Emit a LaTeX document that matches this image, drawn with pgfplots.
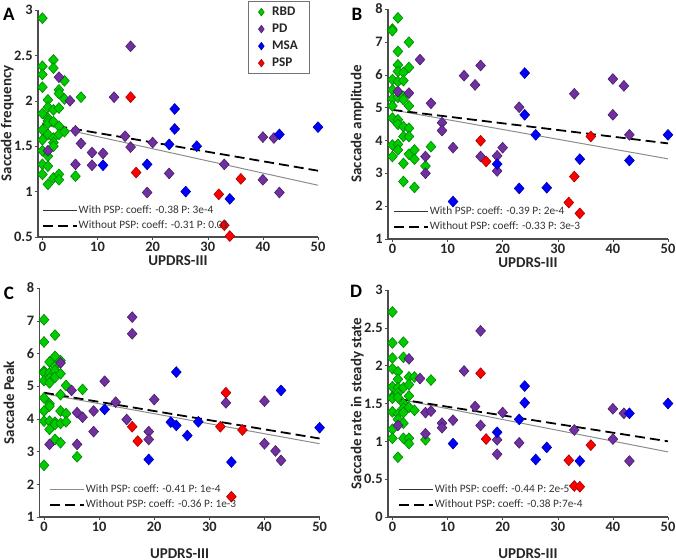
\documentclass[border=0pt]{standalone}
\usepackage{fontspec}
\setmainfont{Carlito}
\usepackage{pgfplots}
\pgfplotsset{compat=1.18}

\definecolor{rbd}{RGB}{0,204,0}
\definecolor{pd}{RGB}{112,48,160}
\definecolor{msa}{RGB}{0,0,255}
\definecolor{psp}{RGB}{255,0,0}

\pgfplotsset{
  panel/.style={
    scale only axis, width=140pt,
    xmin=-0.8, xmax=50,
    axis lines=left, axis line style={-, black!70, line width=0.6pt},
    xtick={0,10,...,50},
    tick align=outside, major tick length=1.5pt, tick style={black!70},
    /pgf/number format/assume math mode=true,
    ticklabel style={font=\fontsize{7.2}{8}\selectfont\bfseries, text=black!85, inner sep=1pt},
    xticklabel style={inner sep=0.6pt},
    label style={font=\fontsize{7.5}{8}\selectfont\bfseries, text=black!85, inner sep=0pt},
    xlabel={UPDRS-III},
    ylabel style={at={(axis description cs:-0.11,0.5)}, anchor=center},
    clip=false,
    legend style={draw=none, fill=none, font=\fontsize{5.65}{6.5}\selectfont,
      text=black!80, row sep=1.9pt, inner sep=0pt, anchor=south west,
      nodes={inner sep=0.3pt, text height=4.1pt, text depth=1.1pt}},
    legend cell align=left,
    regleg,
  },
  regleg/.style={legend image code/.code={\draw[##1] (0pt,0pt) -- (17pt,0pt);}},
  markleg/.style={legend image code/.code={\draw[##1] plot coordinates {(3pt,0pt)};}},
  grp/.style={only marks, mark=diamond*, mark size=2.7pt,
    mark options={xscale=1.2, fill=#1, draw=#1!65!black, line width=0.3pt}},
  grpl/.style={only marks, mark=diamond*, mark size=1.9pt,
    mark options={xscale=1.0, fill=#1, draw=#1!65!black, line width=0.3pt}},
  with/.style={black!45, line width=0.5pt},
  without/.style={black, line width=0.9pt, dash pattern=on 5pt off 2.5pt},
}

\begin{document}
\begin{tikzpicture}
\useasboundingbox (0,0) rectangle (338pt,279.5pt);

% ---------- A
\begin{axis}[panel, at={(19pt,161pt)}, height=113.5pt,
  ymin=0.5, ymax=3, ytick={0.5,1,...,3}, ylabel={Saccade frequency},
  xlabel style={at={(axis description cs:0.5,-0.103)}, anchor=center},
  legend style={at={(0.014,0.022)}}]
\addplot[grp=rbd, forget plot] coordinates {
(0,2.91)(0,2.38)(0,2.29)(0,2.15)(0,1.86)(0,1.68)(0,1.57)(0,1.45)(0,1.30)(0,1.19)
(1,2.01)(1,1.93)(1,1.81)(1,1.78)(1,1.75)(1,1.63)(1,1.39)(1,1.28)(1,1.08)
(2,2.45)(2,2.36)(2,1.90)(2,1.77)(2,1.59)(2,1.54)(2,1.50)(2,1.15)
(3,2.12)(3,2.08)(3,1.92)(3,1.72)(3,1.63)(3,1.19)(3,1.13)
(4,2.22)(4,2.02)(4,1.66)(6,1.17)(7,2.04)};
\addplot[grp=pd, forget plot] coordinates {
(1,1.45)(3,2.26)(5,2.00)(6,1.67)(6,1.30)(7,1.53)(9,1.43)(9,1.29)(11,1.42)(13,2.04)
(15,1.61)(16,2.60)(16,1.49)(19,0.99)(20,1.54)(23,1.20)(33,1.30)(40,1.60)(40,1.13)
(42,1.59)(43,0.99)};
\addplot[grp=msa, forget plot] coordinates {
(11,1.29)(19,1.30)(23,1.52)(24,1.91)(24,1.69)(26,1.00)(28,1.50)(34,0.92)(43,1.63)(50,1.71)};
\addplot[grp=psp, forget plot] coordinates {
(16,2.04)(17,1.21)(32,0.97)(33,0.63)(34,0.51)(36,1.14)};
\addplot[with, forget plot] coordinates {(0,1.74) (50,1.07)};
\addplot[without, forget plot] coordinates {(0,1.75) (50,1.23)};
\addlegendimage{black!80, line width=0.6pt}
\addlegendentry{With PSP: coeff: -0.38 P: 3e-4}
\addlegendimage{without}
\addlegendentry{Without PSP: coeff: -0.31 P: 0.01}
\end{axis}

% group legend of A
\begin{axis}[at={(19pt,161pt)}, scale only axis, width=140pt, height=113.5pt,
  hide axis, xmin=0, xmax=1, ymin=0, ymax=1, markleg,
  legend style={at={(0.75,1.04)}, anchor=north west, draw=black!55, line width=0.5pt,
    font=\fontsize{6.6}{7}\selectfont\bfseries, text=black!85,
    row sep=0.8pt, inner xsep=5pt, inner ysep=1.5pt, column sep=3pt,
    nodes={inner sep=1pt, text height=4.6pt, text depth=1.1pt}},
  legend cell align=left]
\addlegendimage{grpl=rbd}\addlegendentry{RBD}
\addlegendimage{grpl=pd}\addlegendentry{PD}
\addlegendimage{grpl=msa}\addlegendentry{MSA}
\addlegendimage{grpl=psp}\addlegendentry{PSP}
\end{axis}

% ---------- B
\begin{axis}[panel, at={(194pt,160pt)}, height=115pt,
  ymin=1, ymax=8, ytick={1,...,8}, ylabel={Saccade amplitude},
  xlabel style={at={(axis description cs:0.5,-0.102)}, anchor=center},
  legend style={at={(0.018,0.026)}}]
\addplot[grp=rbd, forget plot] coordinates {
(0,7.39)(0,7.34)(0,5.85)(0,5.54)(0,5.27)(0,5.05)(0,4.68)(0,3.86)(0,3.51)
(1,7.73)(1,6.71)(1,6.30)(1,6.10)(1,5.79)(1,5.31)(1,4.63)(1,4.49)(1,3.88)(1,3.71)
(2,6.07)(2,5.82)(2,5.34)(2,5.24)(2,4.42)(2,4.12)(2,3.30)(2,2.75)
(3,6.99)(3,6.22)(3,5.05)(3,4.37)(3,4.12)(3,3.58)
(4,3.71)(4,3.43)(4,2.57)(6,3.22)(7,3.81)};
\addplot[grp=pd, forget plot] coordinates {
(1,5.49)(3,5.44)(5,6.46)(6,3.51)(6,3.00)(7,5.13)(9,4.54)(9,4.30)(11,3.78)(13,5.97)
(15,5.69)(16,6.28)(16,3.51)(19,3.53)(19,3.07)(20,3.78)(23,5.01)(33,5.42)(40,5.87)
(40,4.78)(42,5.66)(43,4.17)};
\addplot[grp=msa, forget plot] coordinates {
(11,2.14)(19,3.28)(23,2.54)(24,6.05)(24,4.78)(26,4.17)(28,2.56)(34,3.43)(43,3.39)(50,4.17)};
\addplot[grp=psp, forget plot] coordinates {
(16,3.99)(17,3.36)(32,2.11)(33,2.90)(34,1.78)(36,4.12)};
\addplot[with, forget plot] coordinates {(0,4.93) (50,3.44)};
\addplot[without, forget plot] coordinates {(0,4.93) (50,3.91)};
\addlegendimage{black!80, line width=0.6pt}
\addlegendentry{With PSP: coeff: -0.39 P: 2e-4}
\addlegendimage{without}
\addlegendentry{Without PSP: coeff: -0.33 P: 3e-3}
\end{axis}

% ---------- C
\begin{axis}[panel, at={(19.8pt,21pt)}, height=114.5pt,
  ymin=1, ymax=8, ytick={1,...,8}, ylabel={Saccade Peak},
  xlabel style={at={(axis description cs:0.5,-0.158)}, anchor=center},
  legend style={at={(0.034,0.026)}}]
\addplot[grp=rbd, forget plot] coordinates {
(0,7.03)(0,6.35)(0,5.46)(0,5.41)(0,5.17)(0,4.64)(0,4.24)(0,3.93)(0,2.58)
(1,5.74)(1,5.41)(1,5.25)(1,5.10)(1,4.46)(1,4.39)(1,3.93)(1,3.68)
(2,6.56)(2,5.91)(2,5.61)(2,5.48)(2,5.27)(2,3.90)(2,3.83)(2,3.37)
(3,5.78)(3,5.38)(3,4.74)(3,4.24)(3,3.86)(3,3.27)
(4,5.02)(4,4.16)(4,3.91)(6,2.84)(7,4.90)};
\addplot[grp=pd, forget plot] coordinates {
(1,3.22)(3,5.71)(5,4.87)(6,4.19)(6,3.22)(7,4.05)(9,4.24)(9,3.61)(11,5.15)(13,4.51)
(15,3.98)(16,7.11)(16,6.60)(19,3.61)(19,3.37)(20,4.59)(33,4.49)(40,4.54)(40,3.24)
(42,3.02)(43,2.73)};
\addplot[grp=msa, forget plot] coordinates {
(11,4.29)(19,2.76)(23,3.90)(24,5.43)(24,3.80)(26,3.49)(28,3.91)(34,2.68)(43,4.87)(50,3.73)};
\addplot[grp=psp, forget plot] coordinates {
(16,3.76)(17,3.32)(32,3.76)(33,4.80)(34,1.62)(36,3.66)};
\addplot[with, forget plot] coordinates {(0,4.77) (50,3.24)};
\addplot[without, forget plot] coordinates {(0,4.80) (50,3.40)};
\addlegendimage{with}
\addlegendentry{With PSP: coeff: -0.41 P: 1e-4}
\addlegendimage{without}
\addlegendentry{Without PSP: coeff: -0.36 P: 1e-3}
\end{axis}

% ---------- D
\begin{axis}[panel, at={(194pt,21pt)}, height=113.5pt,
  ymin=0, ymax=3, ytick={0,0.5,...,3}, ylabel={Saccade rate in steady state},
  xlabel style={at={(axis description cs:0.5,-0.16)}, anchor=center},
  legend style={at={(0.036,0.026)}}]
\addplot[grp=rbd, forget plot] coordinates {
(0,2.71)(0,2.30)(0,2.10)(0,1.96)(0,1.72)(0,1.59)(0,1.57)(0,1.39)(0,1.16)(0,1.04)
(1,1.92)(1,1.82)(1,1.71)(1,1.64)(1,1.58)(1,1.36)(1,1.29)(1,0.79)
(2,2.31)(2,2.11)(2,1.71)(2,1.50)(2,1.44)(2,1.38)(2,1.24)(2,1.04)
(3,1.85)(3,1.75)(3,1.60)(3,1.45)(3,1.04)(3,0.97)
(4,1.85)(4,1.41)(6,1.02)(7,1.81)};
\addplot[grp=pd, forget plot] coordinates {
(1,1.21)(3,2.09)(5,1.83)(6,1.38)(6,1.10)(7,1.40)(9,1.24)(9,1.18)(11,1.28)(13,1.93)
(15,1.46)(16,2.46)(16,1.21)(19,1.02)(19,0.83)(20,1.38)(23,0.98)(33,1.15)(40,1.43)
(40,1.03)(42,1.37)(43,0.74)};
\addplot[grp=msa, forget plot] coordinates {
(11,0.97)(19,1.12)(23,1.29)(24,1.73)(24,1.51)(26,0.76)(28,0.92)(34,0.74)(43,1.37)(50,1.50)};
\addplot[grp=psp, forget plot] coordinates {
(16,1.90)(17,1.03)(32,0.75)(33,0.41)(34,0.40)(36,0.95)};
\addplot[with, forget plot] coordinates {(1,1.56) (50,0.86)};
\addplot[without, forget plot] coordinates {(1,1.56) (50,1.00)};
\addlegendimage{black!80, line width=0.6pt}
\addlegendentry{With PSP: coeff: -0.44 P: 2e-5}
\addlegendimage{without}
\addlegendentry{Without PSP: coeff: -0.38 P:7e-4}
\end{axis}

% panel letters
\begin{scope}[every node/.style={font=\fontsize{9.5}{10}\selectfont\bfseries, text=black}]
\node at (4.5pt,272.5pt) {A};
\node at (178.5pt,272.5pt) {B};
\node at (4.5pt,133pt) {C};
\node at (178pt,134pt) {D};
\end{scope}
\end{tikzpicture}
\end{document}
